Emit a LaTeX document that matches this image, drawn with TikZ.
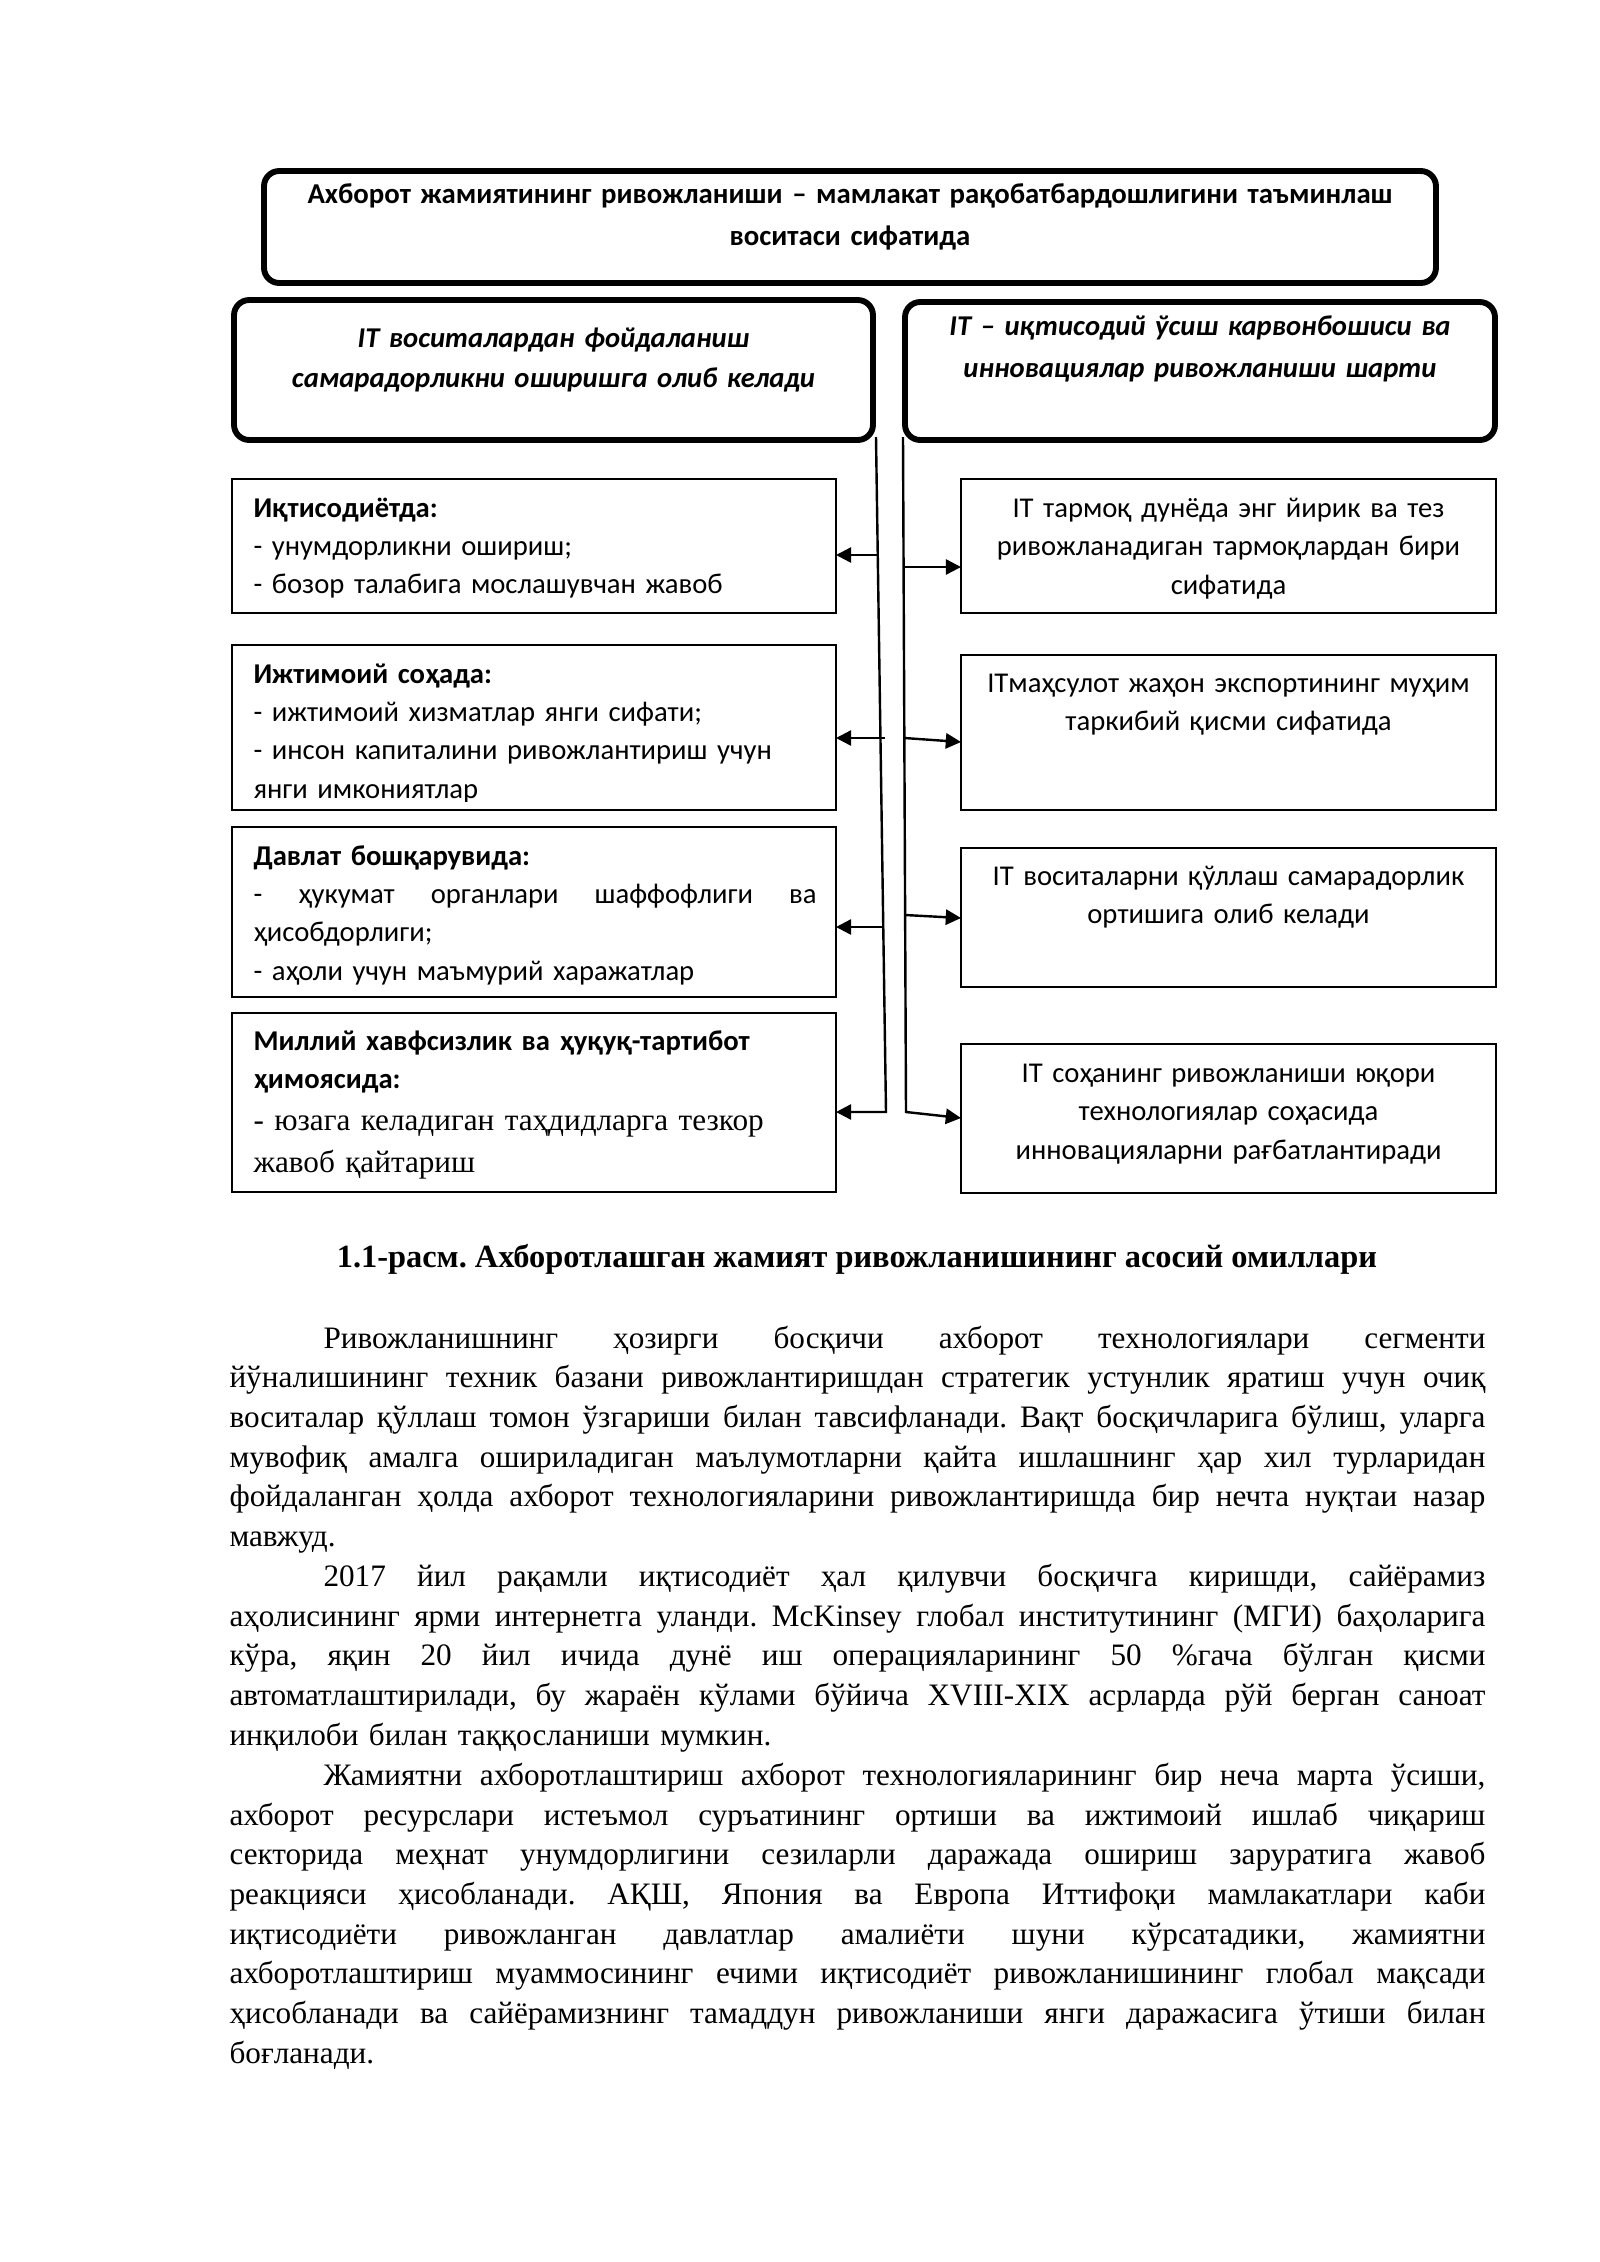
\documentclass[tikz,border=0pt]{standalone}
\usepackage{fontspec}
\setmainfont{Liberation Serif}
\setsansfont{Carlito}
\usetikzlibrary{arrows.meta}
\newcommand{\jbox}[1]{\leavevmode\hbox to \hsize{\spaceskip=\fontdimen2\font plus 1fil minus \fontdimen4\font\relax #1}}
\newcommand{\jl}[1]{\noindent\jbox{#1}\par}
\newcommand{\lastln}[1]{\noindent#1\par}
\begin{document}
\frenchspacing
\begin{tikzpicture}[x=0.13125mm,y=-0.13125mm,
  thickbox/.style={draw=black,line width=2.2pt,rounded corners=2mm,inner sep=0pt,outer sep=0pt},
  thinbox/.style={draw=black,line width=1pt,inner sep=0pt,outer sep=0pt},
  conn/.style={draw=black,line width=0.9pt},
  arr/.style={conn,-{Triangle[length=2mm,width=2mm]}},
  toptext/.style={inner sep=0pt,anchor=base,align=center,text width=160mm,font={\sffamily\bfseries\fontsize{10.75}{15.7}\selectfont}},
  headtext/.style={inner sep=0pt,anchor=base,align=center,text width=82mm,font={\sffamily\bfseries\itshape\fontsize{10.7}{15.3}\selectfont}},
  ltext/.style={inner sep=0pt,anchor=base west,align=left,text width=73.9mm,font={\sffamily\fontsize{10.7}{14.35}\selectfont}},
  lserif/.style={inner sep=0pt,anchor=base west,align=left,text width=73.9mm,font={\rmfamily\fontsize{11.65}{15.7}\selectfont}},
  rtext/.style={inner sep=0pt,anchor=base,align=center,text width=70mm,font={\sffamily\fontsize{10.7}{14.38}\selectfont}},
  body/.style={inner sep=0pt,anchor=base west,align=left,text width=164.85mm,font={\rmfamily\fontsize{11.65}{14.84}\selectfont}},
  captext/.style={inner sep=0pt,anchor=base,font={\rmfamily\bfseries\fontsize{12.1}{14.84}\selectfont}}
]
\fill[white] (0,0) rectangle (1600,2262);
\useasboundingbox (0,0) rectangle (1600,2262);

% boxes
\node[thickbox,minimum width=153.83mm,minimum height=14.70mm] (top) at (850,227) {};
\node[thickbox,minimum width=83.87mm,minimum height=18.375mm] (L0) at (553.5,370) {};
\node[thickbox,minimum width=77.44mm,minimum height=18.11mm] (R0) at (1200,371) {};
\node[thinbox,minimum width=79.275mm,minimum height=17.59mm] (L1) at (534,546) {};
\node[thinbox,minimum width=79.275mm,minimum height=21.66mm] (L2) at (534,727.5) {};
\node[thinbox,minimum width=79.275mm,minimum height=22.31mm] (L3) at (534,912) {};
\node[thinbox,minimum width=79.275mm,minimum height=23.49mm] (L4) at (534,1102.5) {};
\node[thinbox,minimum width=70.22mm,minimum height=17.59mm] (R1) at (1228.5,546) {};
\node[thinbox,minimum width=70.22mm,minimum height=20.34mm] (R2) at (1228.5,732.5) {};
\node[thinbox,minimum width=70.22mm,minimum height=18.24mm] (R3) at (1228.5,917.5) {};
\node[thinbox,minimum width=70.22mm,minimum height=19.56mm] (R4) at (1228.5,1118.5) {};

% texts
\node[toptext] (tTop) at (850,203) {Ахборот жамиятининг ривожланиши – мамлакат рақобатбардошлигини таъминлаш\\воситаси сифатида};
\node[headtext] (tL0) at (553.5,347) {IT воситалардан фойдаланиш\\самарадорликни оширишга олиб келади};
\node[headtext,font={\sffamily\bfseries\itshape\fontsize{10.7}{15.7}\selectfont}] (tR0) at (1200,335) {IT – иқтисодий ўсиш карвонбошиси ва\\инновациялар ривожланиши шарти};

\node[ltext] (tL1) at (253,517) {\textbf{Иқтисодиётда:}\\- унумдорликни ошириш;\\- бозор талабига мослашувчан жавоб};
\begin{scope}
\clip (232,645) rectangle (836,801);
\node[ltext] (tL2) at (253,683) {\textbf{Ижтимоий соҳада:}\\- ижтимоий хизматлар янги сифати;\\- инсон капиталини ривожлантириш учун\\янги имкониятлар};
\end{scope}
\node[ltext] (tL3) at (253,865) {\textbf{Давлат бошқарувида:}\\\jbox{- ҳукумат органлари шаффофлиги ва}\\ҳисобдорлиги;\\- аҳоли учун маъмурий харажатлар};
\node[ltext,font={\sffamily\bfseries\fontsize{10.7}{14.35}\selectfont}] (tL4a) at (253,1050) {Миллий хавфсизлик ва ҳуқуқ-тартибот\\ҳимоясида:};
\node[lserif] (tL4b) at (253,1130) {- юзага келадиган таҳдидларга тезкор\\жавоб қайтариш};

\node[rtext] (tR1) at (1228.5,517) {IT тармоқ дунёда энг йирик ва тез\\ривожланадиган тармоқлардан бири\\сифатида};
\node[rtext] (tR2) at (1228.5,692) {ITмаҳсулот жаҳон экспортининг муҳим\\таркибий қисми сифатида};
\node[rtext] (tR3) at (1228.5,885) {IT воситаларни қўллаш самарадорлик\\ортишига олиб келади};
\node[rtext] (tR4) at (1228.5,1082) {IT соҳанинг ривожланиши юқори\\технологиялар соҳасида\\инновацияларни рағбатлантиради};

% connectors
\coordinate (vl1) at (876,437);
\coordinate (vl2) at (886,1112);
\coordinate (vr1) at (903,437);
\coordinate (vr2) at (906,1112);
\coordinate (r4e) at (R4.west |- 0,1118);
\draw[arr] (vl1) -- (vl2) -- (L4.east |- vl2);
\draw[arr] (vr1) -- (vr2) -- (r4e);

\coordinate (a1) at (877.7,555);
\coordinate (a2) at (885,738);
\coordinate (a3) at (884,927);
\draw[arr] (a1) -- (L1.east |- a1);
\draw[arr] (a2) -- (L2.east |- a2);
\draw[arr] (a3) -- (L3.east |- a3);

\coordinate (b1) at (903.5,567);
\coordinate (b2) at (904.5,738);
\coordinate (b3) at (905,915);
\coordinate (b2e) at (R2.west |- 0,742);
\coordinate (b3e) at (R3.west |- 0,918);
\draw[arr] (b1) -- (R1.west |- b1);
\draw[arr] (b2) -- (b2e);
\draw[arr] (b3) -- (b3e);

% caption
\node[captext] (cap) at (857,1267) {1.1-расм. Ахборотлашган жамият ривожланишининг асосий омиллари};

% body text
\node[body] (p1) at (229,1348) {%
\jl{\hspace*{12.34mm}Ривожланишнинг ҳозирги босқичи ахборот технологиялари сегменти}%
\jl{йўналишининг техник базани ривожлантиришдан стратегик устунлик яратиш учун очиқ}%
\jl{воситалар қўллаш томон ўзгариши билан тавсифланади. Вақт босқичларига бўлиш, уларга}%
\jl{мувофиқ амалга ошириладиган маълумотларни қайта ишлашнинг ҳар хил турларидан}%
\jl{фойдаланган ҳолда ахборот технологияларини ривожлантиришда бир нечта нуқтаи назар}%
\lastln{мавжуд.}};
\node[body] (p2) at (229,1586.5) {%
\jl{\hspace*{12.34mm}2017 йил рақамли иқтисодиёт ҳал қилувчи босқичга киришди, сайёрамиз}%
\jl{аҳолисининг ярми интернетга уланди. McKinsey глобал институтининг (МГИ) баҳоларига}%
\jl{кўра, яқин 20 йил ичида дунё иш операцияларининг 50 \%гача бўлган қисми}%
\jl{автоматлаштирилади, бу жараён кўлами бўйича XVIII-XIX асрларда рўй берган саноат}%
\lastln{инқилоби билан таққосланиши мумкин.}};
\node[body] (p3) at (229,1785.25) {%
\jl{\hspace*{12.34mm}Жамиятни ахборотлаштириш ахборот технологияларининг бир неча марта ўсиши,}%
\jl{ахборот ресурслари истеъмол суръатининг ортиши ва ижтимоий ишлаб чиқариш}%
\jl{секторида меҳнат унумдорлигини сезиларли даражада ошириш заруратига жавоб}%
\jl{реакцияси ҳисобланади. АҚШ, Япония ва Европа Иттифоқи мамлакатлари каби}%
\jl{иқтисодиёти ривожланган давлатлар амалиёти шуни кўрсатадики, жамиятни}%
\jl{ахборотлаштириш муаммосининг ечими иқтисодиёт ривожланишининг глобал мақсади}%
\jl{ҳисобланади ва сайёрамизнинг тамаддун ривожланиши янги даражасига ўтиши билан}%
\lastln{боғланади.}};
\end{tikzpicture}
\end{document}
